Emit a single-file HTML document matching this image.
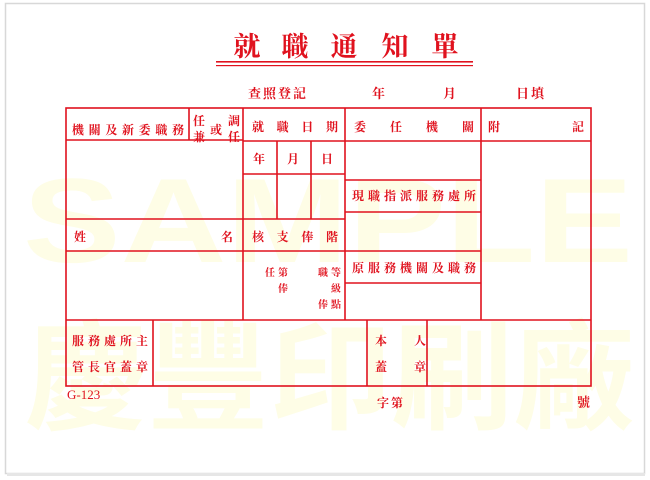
<!DOCTYPE html>
<html><head><meta charset="utf-8">
<style>
html,body{margin:0;padding:0;background:#fff;}
body{width:650px;height:480px;overflow:hidden;}
svg{display:block;}
text{font-family:"Liberation Serif","Noto Serif CJK SC","Noto Sans CJK TC",serif;fill:#e0121e;font-weight:bold;}
.wm{fill:#fefde6;font-family:"Liberation Sans","Noto Sans CJK TC",sans-serif;font-weight:bold;}
</style></head><body>
<svg width="650" height="480" viewBox="0 0 650 480" xmlns="http://www.w3.org/2000/svg">
<rect x="0" y="0" width="650" height="480" fill="#fff"/>
<rect x="5.5" y="3.5" width="639" height="470" fill="#fff" stroke="#d8d8d8" stroke-width="1.5"/>
<rect x="7" y="473" width="638" height="3" fill="#e6e6e6"/>
<text class="wm" x="328" y="262" font-size="120" text-anchor="middle" textLength="610" lengthAdjust="spacingAndGlyphs">SAMPLE</text>
<text class="wm" x="330" y="420" font-size="118" text-anchor="middle" textLength="610" lengthAdjust="spacingAndGlyphs">慶豐印刷廠</text>

<g font-size="27">
<text x="247" y="56" text-anchor="middle">就</text>
<text x="295" y="56" text-anchor="middle">職</text>
<text x="344" y="56" text-anchor="middle">通</text>
<text x="395" y="56" text-anchor="middle">知</text>
<text x="445" y="56" text-anchor="middle">單</text>
</g>
<rect x="216" y="61" width="257" height="1.6" fill="#e0121e"/>
<rect x="216" y="65" width="257" height="1.2" fill="#e0121e"/>

<g font-size="13">
<text x="248" y="98" letter-spacing="2">查照登記</text>
<text x="372" y="98">年</text>
<text x="443" y="98">月</text>
<text x="516" y="98" letter-spacing="2">日填</text>
</g>

<g stroke="#e0121e" stroke-width="1.6" fill="none">
<rect x="66" y="108" width="525" height="278"/>
<line x1="189" y1="108" x2="189" y2="140"/>
<line x1="243" y1="108" x2="243" y2="320"/>
<line x1="345" y1="108" x2="345" y2="320"/>
<line x1="481" y1="108" x2="481" y2="320"/>
<line x1="66" y1="140" x2="243" y2="140"/>
<line x1="243" y1="141" x2="591" y2="141"/>
<line x1="243" y1="174" x2="345" y2="174"/>
<line x1="277" y1="141" x2="277" y2="219"/>
<line x1="311" y1="141" x2="311" y2="219"/>
<line x1="66" y1="219" x2="345" y2="219"/>
<line x1="66" y1="251" x2="345" y2="251"/>
<line x1="345" y1="180" x2="481" y2="180"/>
<line x1="345" y1="212" x2="481" y2="212"/>
<line x1="345" y1="251" x2="481" y2="251"/>
<line x1="345" y1="283" x2="481" y2="283"/>
<line x1="66" y1="320" x2="591" y2="320"/>
<line x1="153" y1="320" x2="153" y2="386"/>
<line x1="367" y1="320" x2="367" y2="386"/>
<line x1="427" y1="320" x2="427" y2="386"/>
</g>

<g font-size="12">
<text x="72" y="134" textLength="112" lengthAdjust="spacing">機關及新委職務</text>
<text x="193" y="125">任</text>
<text x="193" y="141">兼</text>
<text x="210" y="134">或</text>
<text x="228" y="125">調</text>
<text x="228" y="141">任</text>
<text x="252" y="131" textLength="86" lengthAdjust="spacing">就職日期</text>
<text x="253" y="163">年</text>
<text x="287" y="163">月</text>
<text x="321" y="163">日</text>
<text x="354" y="131" textLength="120" lengthAdjust="spacing">委任機關</text>
<text x="488" y="131">附</text>
<text x="572" y="131">記</text>
<text x="352" y="200" textLength="124" lengthAdjust="spacing">現職指派服務處所</text>
<text x="74" y="241">姓</text>
<text x="221" y="241">名</text>
<text x="252" y="241" textLength="86" lengthAdjust="spacing">核支俸階</text>
<text x="352" y="272" textLength="124" lengthAdjust="spacing">原服務機關及職務</text>
<text x="72" y="345" textLength="76" lengthAdjust="spacing">服務處所主</text>
<text x="72" y="371" textLength="76" lengthAdjust="spacing">管長官蓋章</text>
<text x="375" y="345">本</text>
<text x="414" y="345">人</text>
<text x="375" y="371">蓋</text>
<text x="414" y="371">章</text>
</g>
<g font-size="10">
<text x="265" y="276">任</text>
<text x="278" y="276">第</text>
<text x="278" y="292">俸</text>
<text x="318" y="276">職</text>
<text x="331" y="276">等</text>
<text x="331" y="292">級</text>
<text x="318" y="308">俸</text>
<text x="331" y="308">點</text>
</g>
<text x="67" y="399" font-size="13" style="font-weight:normal">G-123</text>
<text x="377" y="407" font-size="12" letter-spacing="2">字第</text>
<text x="577" y="407" font-size="13">號</text>
</svg>
</body></html>
